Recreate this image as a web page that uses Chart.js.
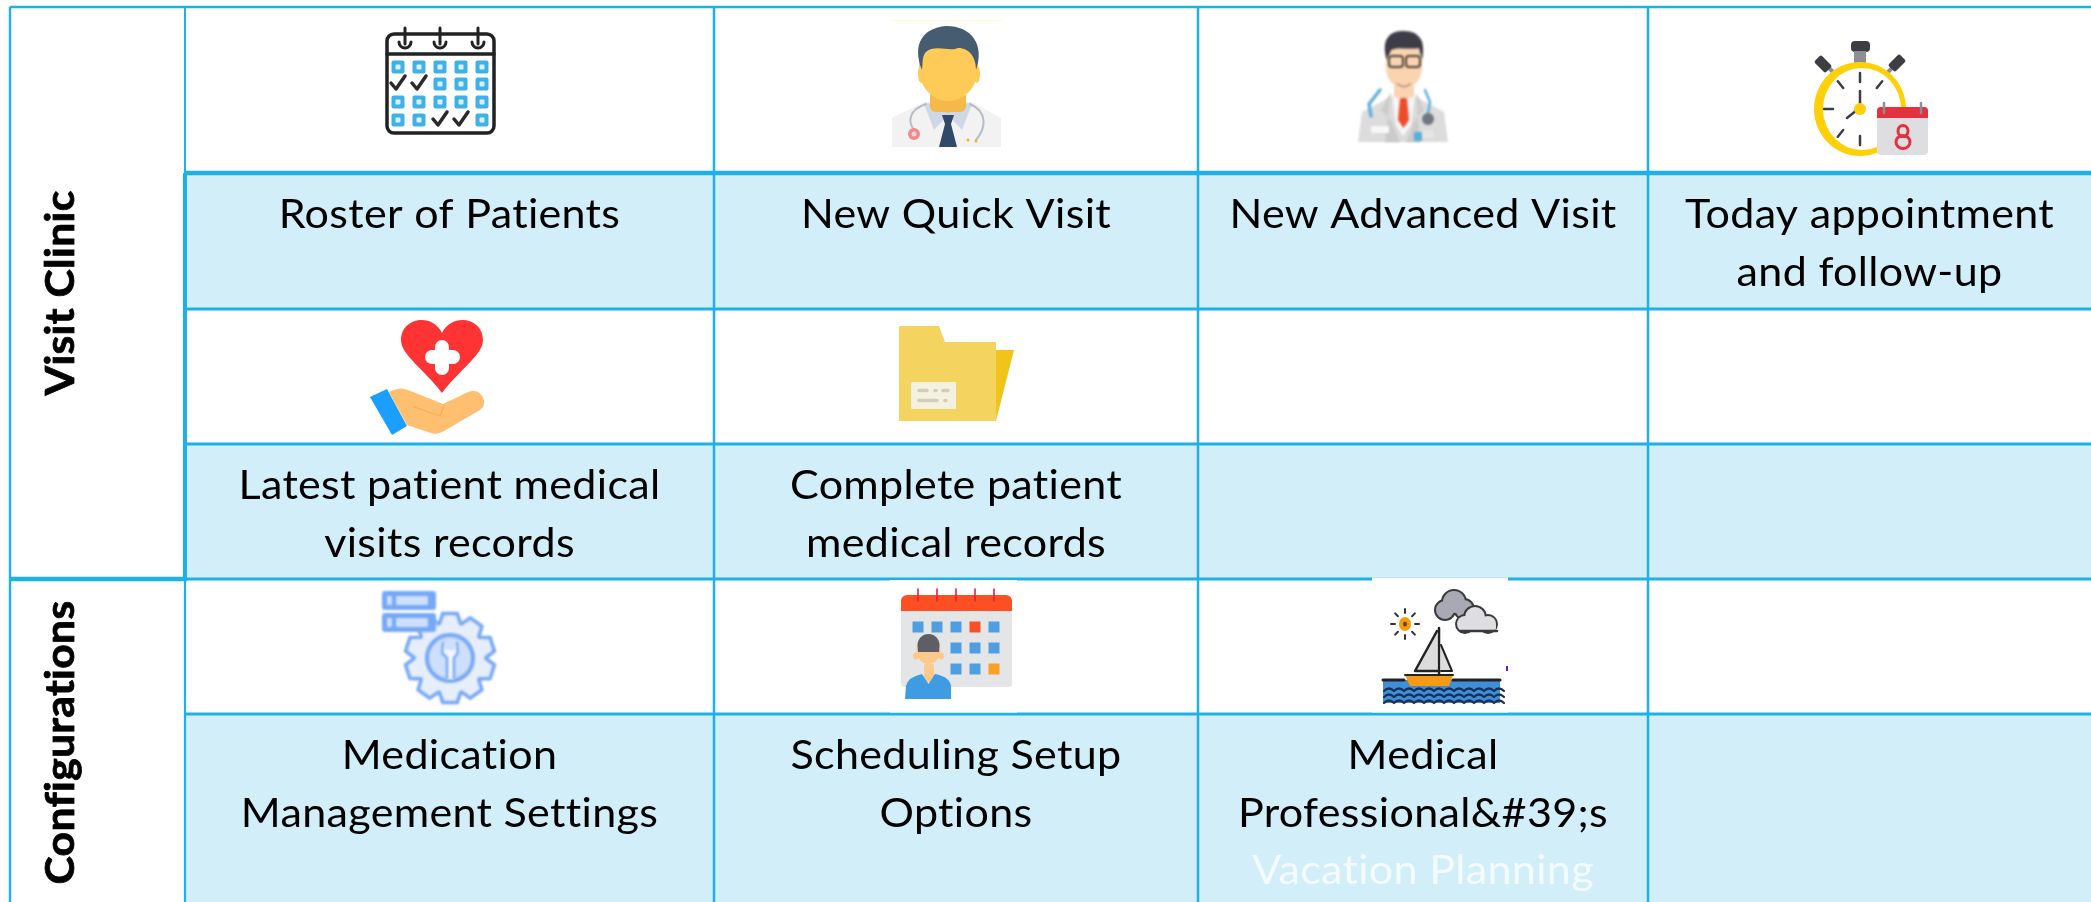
<!DOCTYPE html>
<html>
<head>
<meta charset="utf-8">
<title>Clinic menu</title>
<script src="https://cdn.jsdelivr.net/npm/chart.js@4"></script>
<style>
html, body { margin: 0; padding: 0; background: #fff; overflow: hidden; }
canvas { display: block; }
</style>
</head>
<body>
<canvas id="menuChart" width="2091" height="902"></canvas>
<script>
// table grid
var columnEdges = [10, 185, 714, 1198, 1648, 2091];
var rowEdges = [7, 173, 309, 444, 579, 714, 902];
var sideLabels = ["Visit Clinic", "Configurations"];
var sideRows = [[0, 3], [4, 5]];
var labelRows = [1, 3, 5];
var row1Labels = [["Roster of Patients"], ["New Quick Visit"], ["New Advanced Visit"], ["Today appointment", "and follow-up"]];
var row3Labels = [["Latest patient medical", "visits records"], ["Complete patient", "medical records"], [], []];
var row5Labels = [["Medication", "Management Settings"], ["Scheduling Setup", "Options"], ["Medical", "Professional&#39;s", "Vacation Planning"], []];
var labelsByRow = [row1Labels, row3Labels, row5Labels];

var LINE = "#1fb0e8";
var BAND = "#d1eef9";

function mid(a, i) { return (a[i] + a[i + 1]) / 2; }

// light blue label cells, one bar dataset per column
var datasets = [];
for (var c = 1; c < columnEdges.length - 1; c++) {
    datasets.push({
        type: "bar",
        order: 2,
        grouped: false,
        backgroundColor: BAND,
        borderWidth: 0,
        barThickness: columnEdges[c + 1] - columnEdges[c],
        data: labelRows.map(function (r) {
            return { x: mid(columnEdges, c), y: [rowEdges[r], rowEdges[r + 1]] };
        })
    });
}

function segment(x0, y0, x1, y1, w) {
    datasets.push({
        type: "line",
        order: 1,
        borderColor: LINE,
        borderWidth: w,
        pointRadius: 0,
        clip: false,
        data: [{ x: x0, y: y0 }, { x: x1, y: y1 }]
    });
}

var right = columnEdges[5], bottom = rowEdges[6], cx1 = columnEdges[1];
segment(columnEdges[0], rowEdges[0], right, rowEdges[0], 2.5);
segment(columnEdges[0], rowEdges[0], columnEdges[0], bottom, 2.4);
segment(cx1, rowEdges[0], cx1, rowEdges[1], 2);
segment(cx1, rowEdges[1], cx1, rowEdges[4], 4);
segment(cx1, rowEdges[4], cx1, bottom, 2.2);
[2, 3, 4].forEach(function (i) { segment(columnEdges[i], rowEdges[0], columnEdges[i], bottom, 2.5); });
segment(cx1, rowEdges[1], right, rowEdges[1], 4.5);
segment(cx1, rowEdges[2], right, rowEdges[2], 3);
segment(cx1, rowEdges[3], right, rowEdges[3], 3);
segment(cx1, rowEdges[4], right, rowEdges[4], 2.8);
segment(columnEdges[0], rowEdges[4], cx1 + 2, rowEdges[4], 4.5);
segment(cx1, rowEdges[5], right, rowEdges[5], 2.8);

// small canvas helpers for the pictograms
function rr(ctx, x, y, w, h, r, fill, stroke, lw) {
    ctx.beginPath();
    ctx.roundRect(x, y, w, h, r);
    if (fill) { ctx.fillStyle = fill; ctx.fill(); }
    if (stroke) { ctx.strokeStyle = stroke; ctx.lineWidth = lw || 1; ctx.stroke(); }
}
function poly(ctx, pts, fill) {
    ctx.beginPath();
    pts.forEach(function (p, i) { if (i) ctx.lineTo(p[0], p[1]); else ctx.moveTo(p[0], p[1]); });
    ctx.closePath();
    ctx.fillStyle = fill;
    ctx.fill();
}
function path(ctx, pts, stroke, lw) {
    ctx.beginPath();
    pts.forEach(function (p, i) { if (i) ctx.lineTo(p[0], p[1]); else ctx.moveTo(p[0], p[1]); });
    ctx.strokeStyle = stroke;
    ctx.lineWidth = lw;
    ctx.lineCap = "round";
    ctx.lineJoin = "round";
    ctx.stroke();
}
function disc(ctx, x, y, rx, ry, fill) {
    ctx.beginPath();
    ctx.ellipse(x, y, rx, ry, 0, 0, Math.PI * 2);
    ctx.fillStyle = fill;
    ctx.fill();
}

function iconRoster(ctx) {
    ctx.filter = "blur(0.6px)";
    rr(ctx, 387, 34, 107, 99, 7, "#fff", "#222", 3.5);
    path(ctx, [[387, 54], [494, 54]], "#222", 3.5);
    [405, 440, 478].forEach(function (x) {
        ctx.beginPath();
        ctx.arc(x, 42, 6, 0, Math.PI);
        ctx.strokeStyle = "#222"; ctx.lineWidth = 3; ctx.stroke();
        path(ctx, [[x, 28], [x, 44]], "#222", 3);
    });
    var xs = [398, 419, 440, 461, 482], ys = [67, 84, 102, 120];
    var checks = { "1,0": 1, "1,1": 1, "3,2": 1, "3,3": 1 };
    ys.forEach(function (y, r) {
        xs.forEach(function (x, c) {
            if (checks[r + "," + c]) {
                path(ctx, [[x - 7, y - 1], [x - 2, y + 5], [x + 7, y - 8]], "#2a2a2a", 3.5);
            } else {
                rr(ctx, x - 6.5, y - 6.5, 13, 13, 2, "#3fb1e5");
                rr(ctx, x - 2.5, y - 2.5, 5, 5, 1, "#d8f0fb");
            }
        });
    });
    ctx.filter = "none";
}

function iconDoctorOne(ctx) {
    path(ctx, [[892, 20.5], [1001, 20.5]], "#fdfbd6", 1.5);
    ctx.filter = "blur(0.6px)";
    poly(ctx, [[892, 118], [924, 102], [972, 102], [1001, 118], [1001, 147], [892, 147]], "#f2f2f3");
    poly(ctx, [[924, 104], [948, 100], [972, 104], [962, 130], [948, 115], [934, 130]], "#cfd8e4");
    rr(ctx, 930, 90, 36, 22, 6, "#f5b94b");
    poly(ctx, [[933, 105], [963, 105], [948, 113]], "#f5b94b");
    ctx.beginPath();
    ctx.moveTo(919, 64);
    ctx.bezierCurveTo(918, 90, 935, 101, 948, 101);
    ctx.bezierCurveTo(962, 101, 979, 90, 978, 64);
    ctx.bezierCurveTo(978, 40, 920, 40, 919, 64);
    ctx.fillStyle = "#fecb58";
    ctx.fill();
    disc(ctx, 921, 74, 3, 9, "#fecb58");
    disc(ctx, 977, 74, 3, 9, "#fecb58");
    ctx.beginPath();
    ctx.moveTo(922, 70);
    ctx.bezierCurveTo(912, 45, 922, 28, 946, 26);
    ctx.bezierCurveTo(972, 26, 985, 45, 976, 70);
    ctx.bezierCurveTo(976, 58, 970, 48, 958, 48);
    ctx.bezierCurveTo(950, 52, 935, 44, 926, 52);
    ctx.bezierCurveTo(922, 56, 923, 62, 922, 70);
    ctx.fillStyle = "#465c70";
    ctx.fill();
    poly(ctx, [[942, 115], [954, 115], [951, 124], [957, 147], [939, 147], [945, 124]], "#304a68");
    ctx.beginPath();
    ctx.moveTo(926, 104);
    ctx.bezierCurveTo(908, 110, 908, 122, 914, 130);
    ctx.strokeStyle = "#b5bcc4"; ctx.lineWidth = 2; ctx.stroke();
    ctx.beginPath();
    ctx.moveTo(970, 104);
    ctx.bezierCurveTo(988, 112, 986, 128, 976, 140);
    ctx.stroke();
    disc(ctx, 914, 134, 6, 6, "#f28a8a");
    disc(ctx, 914, 134, 2.5, 2.5, "#d8d8d8");
    disc(ctx, 968, 140, 1.5, 1.5, "#f0b030");
    disc(ctx, 976, 141, 1.5, 1.5, "#f0b030");
    ctx.filter = "none";
}

function iconDoctorTwo(ctx) {
    ctx.filter = "blur(1px)";
    poly(ctx, [[1362, 112], [1392, 96], [1414, 96], [1444, 112], [1448, 142], [1358, 142]], "#dcdcdc");
    poly(ctx, [[1392, 95], [1415, 95], [1411, 125], [1403, 136], [1396, 125]], "#f6f6f6");
    poly(ctx, [[1391, 92], [1381, 110], [1391, 120], [1400, 142], [1385, 142]], "#cbcbcb");
    poly(ctx, [[1416, 92], [1424, 110], [1415, 120], [1406, 142], [1420, 142]], "#cbcbcb");
    ctx.beginPath();
    ctx.moveTo(1386, 58);
    ctx.bezierCurveTo(1384, 80, 1394, 88, 1404, 88);
    ctx.bezierCurveTo(1414, 88, 1424, 80, 1422, 58);
    ctx.lineTo(1422, 40);
    ctx.lineTo(1386, 40);
    ctx.closePath();
    ctx.fillStyle = "#fad3b0";
    ctx.fill();
    rr(ctx, 1394, 84, 20, 14, 4, "#fad3b0");
    path(ctx, [[1397, 84], [1404, 87], [1411, 84]], "#8a6a50", 1);
    ctx.beginPath();
    ctx.moveTo(1387, 60);
    ctx.bezierCurveTo(1381, 42, 1388, 31, 1402, 31);
    ctx.bezierCurveTo(1420, 30, 1426, 42, 1422, 60);
    ctx.lineTo(1419, 48);
    ctx.bezierCurveTo(1408, 50, 1398, 46, 1391, 50);
    ctx.closePath();
    ctx.fillStyle = "#3b3d47";
    ctx.fill();
    rr(ctx, 1389, 56, 14, 11, 3, null, "#4a443c", 2);
    rr(ctx, 1406, 56, 14, 11, 3, null, "#4a443c", 2);
    poly(ctx, [[1400, 98], [1407, 98], [1409, 120], [1403.5, 128], [1398, 120]], "#ee4d28");
    path(ctx, [[1380, 90], [1369, 104], [1371, 116]], "#63b0dc", 3.5);
    path(ctx, [[1425, 90], [1430, 102], [1428, 114]], "#63b0dc", 2.5);
    disc(ctx, 1428, 119, 6, 6, "#6f7680");
    rr(ctx, 1371, 126, 18, 7, 1, "#f7f7f7");
    rr(ctx, 1414, 132, 8, 9, 1, "#5aaedc");
    rr(ctx, 1423, 130, 10, 8, 1, "#e5e5e5");
    ctx.filter = "none";
}

function iconStopwatch(ctx) {
    rr(ctx, 1851, 41, 19, 11, 4, "#3d3d44");
    ctx.fillStyle = "#8d8d94";
    ctx.fillRect(1854, 51, 12, 13);
    path(ctx, [[1833, 72], [1825, 64]], "#8d8d94", 4);
    path(ctx, [[1888, 72], [1896, 64]], "#8d8d94", 4);
    ctx.save();
    ctx.translate(1823, 64); ctx.rotate(Math.PI / 4);
    rr(ctx, -8, -5, 16, 10, 2, "#3d3d44");
    ctx.restore();
    ctx.save();
    ctx.translate(1897, 63); ctx.rotate(-Math.PI / 4);
    rr(ctx, -8, -5, 16, 10, 2, "#3d3d44");
    ctx.restore();
    disc(ctx, 1860, 109, 46, 47, "#fdd007");
    disc(ctx, 1862, 109, 39, 41, "#fff");
    [[0, -1], [0, 1], [-1, 0], [-0.6, -0.75], [0.6, -0.75], [-0.6, 0.75]].forEach(function (d) {
        var len = (d[0] && d[1]) ? 37 : 36;
        path(ctx, [[1860 + d[0] * len, 109 + d[1] * len], [1860 + d[0] * (len - 9), 109 + d[1] * (len - 9)]], "#3d3d44", 2.5);
    });
    path(ctx, [[1860, 91], [1860, 105]], "#3d3d44", 2.5);
    path(ctx, [[1847, 118], [1857, 110]], "#3d3d44", 2.5);
    disc(ctx, 1860, 109, 6, 6, "#fdd007");
    rr(ctx, 1877, 107, 51, 48, 4, "#dedee0");
    ctx.beginPath();
    ctx.roundRect(1877, 107, 51, 11, [4, 4, 0, 0]);
    ctx.fillStyle = "#e5303f";
    ctx.fill();
    path(ctx, [[1884, 103], [1884, 113]], "#8d8d94", 2.5);
    path(ctx, [[1921, 103], [1921, 113]], "#8d8d94", 2.5);
    ctx.beginPath();
    ctx.ellipse(1903, 131, 5, 5.5, 0, 0, Math.PI * 2);
    ctx.moveTo(1910, 142);
    ctx.ellipse(1903, 142, 7, 6.5, 0, 0, Math.PI * 2);
    ctx.strokeStyle = "#e5303f"; ctx.lineWidth = 3; ctx.stroke();
}

function iconHeartHand(ctx) {
    ctx.beginPath();
    ctx.moveTo(442, 393);
    ctx.bezierCurveTo(425, 370, 401, 355, 401, 340);
    ctx.bezierCurveTo(401, 318, 432, 312, 442, 333);
    ctx.bezierCurveTo(452, 312, 483, 318, 483, 340);
    ctx.bezierCurveTo(483, 355, 459, 370, 442, 393);
    ctx.fillStyle = "#fe3334";
    ctx.fill();
    rr(ctx, 435, 340, 14, 35, 7, "#fff");
    rr(ctx, 425, 350, 35, 14, 7, "#fff");
    disc(ctx, 442, 357, 10, 10, "#fff");
    ctx.beginPath();
    ctx.moveTo(389, 392);
    ctx.quadraticCurveTo(400, 386, 408, 390);
    ctx.lineTo(443, 404);
    ctx.lineTo(468, 392);
    ctx.quadraticCurveTo(480, 388, 484, 400);
    ctx.quadraticCurveTo(485, 407, 480, 410);
    ctx.lineTo(444, 431);
    ctx.quadraticCurveTo(436, 436, 428, 432);
    ctx.lineTo(407, 425);
    ctx.closePath();
    ctx.fillStyle = "#fec070";
    ctx.fill();
    path(ctx, [[414, 407], [440, 416], [444, 406]], "#f5aa60", 1.2);
    poly(ctx, [[370, 397], [387, 389], [407, 426], [392, 435]], "#1b9efc");
}

function iconFolder(ctx) {
    poly(ctx, [[996, 350], [1014, 350], [996, 421]], "#f0c419");
    poly(ctx, [[899, 326], [939, 326], [945, 342], [996, 342], [996, 421], [899, 421]], "#f4d35e");
    rr(ctx, 911, 382, 45, 27, 1, "#f3f1e2");
    path(ctx, [[919, 390.5], [927, 390.5]], "#d4cdb3", 3.5);
    path(ctx, [[935, 390.5], [936, 390.5]], "#d4cdb3", 3.5);
    path(ctx, [[943, 390.5], [948, 390.5]], "#d4cdb3", 3.5);
    path(ctx, [[919, 400.5], [937, 400.5]], "#d4cdb3", 3.5);
    path(ctx, [[945, 400.5], [946, 400.5]], "#d4cdb3", 3.5);
}

function iconGear(ctx) {
    var gx = 450, gy = 658, blue = "#76a8f6";
    ctx.filter = "blur(0.8px)";
    ctx.beginPath();
    for (var i = 0; i < 10; i++) {
        var a = i * Math.PI / 5 - Math.PI / 2, t = 0.16;
        var pts = [[36, a - 0.3], [45, a - t], [45, a + t], [36, a + 0.3]];
        pts.forEach(function (p) {
            var px = gx + p[0] * Math.cos(p[1]), py = gy + p[0] * Math.sin(p[1]);
            if (i === 0 && p === pts[0]) ctx.moveTo(px, py); else ctx.lineTo(px, py);
        });
    }
    ctx.closePath();
    ctx.fillStyle = "#e6edfb";
    ctx.fill();
    ctx.strokeStyle = blue; ctx.lineWidth = 3.5; ctx.stroke();
    ctx.beginPath();
    ctx.arc(gx, gy, 23, 0, Math.PI * 2);
    ctx.fillStyle = "#cddffb"; ctx.fill();
    ctx.strokeStyle = blue; ctx.lineWidth = 4; ctx.stroke();
    poly(ctx, [[gx - 7, gy - 17], [gx - 9, gy - 5], [gx - 3, gy + 1], [gx - 3, gy + 21], [gx + 4, gy + 21], [gx + 4, gy + 1], [gx + 9, gy - 5], [gx + 7, gy - 17], [gx + 4, gy - 8], [gx - 4, gy - 8]], "#f2f6fe");
    path(ctx, [[gx - 7, gy - 15], [gx - 8, gy - 5], [gx - 3, gy], [gx - 3, gy + 20]], blue, 2.5);
    path(ctx, [[gx + 7, gy - 15], [gx + 8, gy - 5], [gx + 4, gy], [gx + 4, gy + 20]], blue, 2.5);
    [591, 613].forEach(function (y) {
        rr(ctx, 382, y, 54, 19, 3, "#76a8f6");
        rr(ctx, 387, y + 5, 5, 9, 1, "#cddffb");
        rr(ctx, 396, y + 5, 32, 9, 1, "#cddffb");
    });
    ctx.filter = "none";
}

function iconSchedule(ctx) {
    ctx.fillStyle = "#fff";
    ctx.fillRect(890, 580, 127, 132.5);
    ctx.filter = "blur(0.6px)";
    rr(ctx, 901, 598, 111, 89, 3, "#e4e5e7");
    ctx.beginPath();
    ctx.roundRect(901, 595, 111, 16, [6, 6, 0, 0]);
    ctx.fillStyle = "#fd4e24";
    ctx.fill();
    var xs = [918, 937, 956, 975, 994], ys = [627, 648, 669];
    xs.forEach(function (x) { path(ctx, [[x, 589], [x, 601]], "#e8203a", 1.6); });
    var cells = [[0, 0], [0, 1], [0, 2], [0, 3], [0, 4], [1, 2], [1, 3], [1, 4], [2, 2], [2, 3], [2, 4]];
    cells.forEach(function (c) {
        var col = "#4f9fe0";
        if (c[0] === 0 && c[1] === 3) col = "#f6502a";
        if (c[0] === 2 && c[1] === 4) col = "#f9a028";
        ctx.fillStyle = col;
        ctx.fillRect(xs[c[1]] - 5.5, ys[c[0]] - 5.5, 11, 11);
    });
    rr(ctx, 924, 664, 10, 18, 2, "#fdc98a");
    disc(ctx, 928.5, 650, 12, 14, "#fdc98a");
    disc(ctx, 916, 656, 3, 3.5, "#fdc98a");
    disc(ctx, 941, 656, 3, 3.5, "#fdc98a");
    ctx.beginPath();
    ctx.ellipse(928.5, 645, 11, 11, 0, Math.PI, 0);
    ctx.lineTo(939, 652);
    ctx.lineTo(918, 652);
    ctx.closePath();
    ctx.fillStyle = "#5e5e66";
    ctx.fill();
    ctx.beginPath();
    ctx.moveTo(905, 699);
    ctx.lineTo(906, 686);
    ctx.quadraticCurveTo(908, 677, 922, 674);
    ctx.lineTo(928.5, 684);
    ctx.lineTo(935, 674);
    ctx.quadraticCurveTo(950, 677, 951, 686);
    ctx.lineTo(951, 699);
    ctx.closePath();
    ctx.fillStyle = "#3f9be2";
    ctx.fill();
    ctx.filter = "none";
}

function iconSail(ctx) {
    ctx.fillStyle = "#fff";
    ctx.fillRect(1372, 577.5, 136, 135);
    ctx.filter = "blur(0.5px)";
    function puffs(list, fill) {
        list.forEach(function (p) {
            ctx.beginPath();
            ctx.arc(p[0], p[1], p[2], 0, Math.PI * 2);
            ctx.strokeStyle = "#3a3a3a"; ctx.lineWidth = 4; ctx.stroke();
        });
        list.forEach(function (p) { disc(ctx, p[0], p[1], p[2], p[2], fill); });
    }
    puffs([[1445, 610, 9], [1454, 602, 11], [1464, 609, 9]], "#a9a9b3");
    puffs([[1465, 624, 8], [1475, 617, 10], [1488, 624, 8]], "#dedee2");
    rr(ctx, 1462, 622, 34, 9, 3, "#dedee2");
    path(ctx, [[1460, 631], [1497, 631]], "#3a3a3a", 2.5);
    disc(ctx, 1405, 624, 6, 7, "#f59a12");
    disc(ctx, 1405, 624, 2, 2.5, "#6a4a10");
    for (var i = 0; i < 8; i++) {
        var a = i * Math.PI / 4;
        path(ctx, [[1405 + 10 * Math.cos(a), 624 + 11 * Math.sin(a)], [1405 + 14 * Math.cos(a), 624 + 15 * Math.sin(a)]], "#333", 2);
    }
    poly(ctx, [[1437, 631], [1437, 671], [1415, 671]], "#dcdcdc");
    path(ctx, [[1437, 631], [1415, 671], [1437, 671]], "#222", 2.5);
    poly(ctx, [[1441, 645], [1452, 671], [1441, 671]], "#dcdcdc");
    path(ctx, [[1441, 645], [1452, 671], [1441, 671]], "#222", 2);
    path(ctx, [[1439, 628], [1439, 676]], "#222", 2.5);
    ctx.fillStyle = "#3e8fd8";
    ctx.fillRect(1383, 680, 117, 23);
    poly(ctx, [[1405, 675], [1453, 675], [1449, 686], [1410, 686]], "#f59a12");
    path(ctx, [[1405, 675], [1453, 675]], "#222", 2);
    path(ctx, [[1383, 680], [1404, 680]], "#222", 3);
    path(ctx, [[1453, 680], [1500, 680]], "#222", 3);
    [691, 697, 703].forEach(function (y) {
        ctx.beginPath();
        for (var x = 1384; x < 1500; x += 10) {
            ctx.moveTo(x, y);
            ctx.quadraticCurveTo(x + 5, y - 5, x + 10, y);
        }
        ctx.strokeStyle = "#1a2f55"; ctx.lineWidth = 2.2; ctx.stroke();
    });
    ctx.filter = "none";
    ctx.fillStyle = "#5a20d8";
    ctx.fillRect(1506, 666, 2, 5);
}

var textPlugin = {
    id: "tableText",
    afterDatasetsDraw: function (chart) {
        var ctx = chart.ctx, xs = chart.scales.x, ys = chart.scales.y;
        ctx.save();
        [iconRoster, iconDoctorOne, iconDoctorTwo, iconStopwatch, iconHeartHand, iconFolder, iconGear, iconSchedule, iconSail].forEach(function (draw) {
            ctx.save();
            draw(ctx);
            ctx.restore();
        });
        ctx.textAlign = "center";
        ctx.textBaseline = "alphabetic";
        labelsByRow.forEach(function (rowLabels, i) {
            var top = ys.getPixelForValue(rowEdges[labelRows[i]]);
            rowLabels.forEach(function (lines, c) {
                var x = xs.getPixelForValue(mid(columnEdges, c + 1));
                lines.forEach(function (line, n) {
                    ctx.save();
                    ctx.translate(x, top + 55 + n * 57.5);
                    ctx.scale(1.05, 1);
                    ctx.font = "41px Lato";
                    ctx.letterSpacing = "0.3px";
                    ctx.fillStyle = line === "Vacation Planning" ? "#f4fbfe" : "#000";
                    ctx.fillText(line, 0, 0);
                    ctx.restore();
                });
            });
        });
        sideLabels.forEach(function (label, i) {
            var yTop = ys.getPixelForValue(rowEdges[sideRows[i][0]]);
            var yBottom = ys.getPixelForValue(rowEdges[sideRows[i][1] + 1]);
            ctx.save();
            ctx.translate(74, i === 0 ? 293 : (yTop + yBottom) / 2 + 2);
            ctx.rotate(-Math.PI / 2);
            ctx.scale(1.04, 1);
            ctx.font = "bold 41px Lato";
            ctx.letterSpacing = "0.3px";
            ctx.fillStyle = "#000";
            ctx.strokeStyle = "#000";
            ctx.lineWidth = 0.8;
            ctx.fillText(label, 0, 0);
            ctx.strokeText(label, 0, 0);
            ctx.restore();
        });
        ctx.restore();
    }
};

var ctx = document.getElementById("menuChart").getContext("2d");
var menuChart = new Chart(ctx, {
    type: "bar",
    data: { datasets: datasets },
    plugins: [textPlugin],
    options: {
        responsive: false,
        animation: false,
        layout: { padding: 0 },
        plugins: { legend: { display: false }, tooltip: { enabled: false } },
        scales: {
            x: { type: "linear", min: 0, max: 2091, offset: false, display: false },
            y: { type: "linear", min: 0, max: 902, reverse: true, display: false }
        }
    }
});
</script>
</body>
</html>
